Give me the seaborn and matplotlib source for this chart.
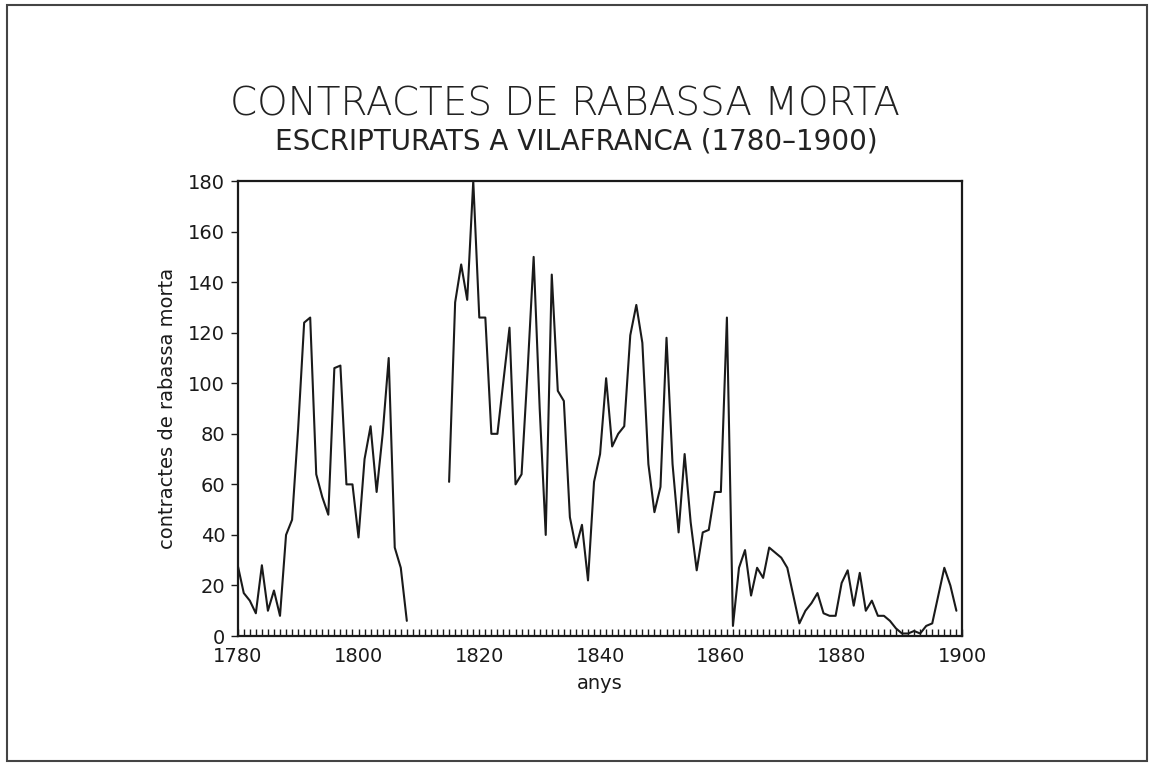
import numpy as np
import pandas as pd
import matplotlib.pyplot as plt
import seaborn as sns
from matplotlib.patches import Rectangle
from matplotlib.ticker import MultipleLocator

# Dades llegides del gràfic original (contractes per any, 1780-1899)
anys = list(range(1780, 1900))
contractes = [
    28, 17, 14, 9, 28, 10, 18, 8, 40, 46,            # 1780-1789
    82, 124, 126, 64, 55, 48, 106, 107, 60, 60,      # 1790-1799
    39, 70, 83, 57, 80, 110, 35, 27, 6, np.nan,      # 1800-1809
    np.nan, np.nan, np.nan, np.nan, np.nan, 61, 132, 147, 133, 180,  # 1810-1819
    126, 126, 80, 80, 101, 122, 60, 64, 105, 150,    # 1820-1829
    90, 40, 143, 97, 93, 47, 35, 44, 22, 61,         # 1830-1839
    72, 102, 75, 80, 83, 119, 131, 116, 68, 49,      # 1840-1849
    59, 118, 68, 41, 72, 45, 26, 41, 42, 57,         # 1850-1859
    57, 126, 4, 27, 34, 16, 27, 23, 35, 33,          # 1860-1869
    31, 27, 16, 5, 10, 13, 17, 9, 8, 8,              # 1870-1879
    21, 26, 12, 25, 10, 14, 8, 8, 6, 3,              # 1880-1889
    1, 1, 2, 1, 4, 5, 16, 27, 20, 10,                # 1890-1899
]

titol = "CONTRACTES DE RABASSA MORTA"
subtitol = "ESCRIPTURATS A VILAFRANCA (1780\u20131900)"

df = pd.DataFrame({"anys": anys, "contractes": contractes})
# tram: cada bloc continu de dades, perquè la línia quedi tallada on falten anys
df["tram"] = df["contractes"].isna().cumsum()
df = df.dropna()

sns.set_style("ticks")
plt.rcParams["font.family"] = ["DejaVu Sans"]

fig = plt.figure(figsize=(11.54, 7.64), dpi=100)
fig.patch.set_facecolor("white")
fig.add_artist(Rectangle((0.006, 0.004), 0.988, 0.99, transform=fig.transFigure,
                         fill=False, edgecolor="#444444", linewidth=1.5))

ax = fig.add_axes([0.206, 0.1675, 0.628, 0.5955])
sns.lineplot(data=df, x="anys", y="contractes", units="tram", estimator=None,
             color="#1a1a1a", linewidth=1.5, ax=ax)

ax.set_xlim(1780, 1900)
ax.set_ylim(0, 180)
ax.xaxis.set_major_locator(MultipleLocator(20))
ax.xaxis.set_minor_locator(MultipleLocator(1))
ax.yaxis.set_major_locator(MultipleLocator(20))
ax.tick_params(axis="x", which="both", direction="in", length=5, width=1,
               labelsize=14, pad=8, colors="#1a1a1a")
ax.tick_params(axis="y", which="major", direction="out", length=5, width=1,
               labelsize=14, pad=4, colors="#1a1a1a")
for s in ax.spines.values():
    s.set_linewidth(1.6)
    s.set_color("#1a1a1a")

ax.set_xlabel("anys", fontsize=14, color="#1a1a1a", labelpad=6)
ax.set_ylabel("contractes de rabassa morta", fontsize=14, color="#1a1a1a", labelpad=8)

fig.text(0.49, 0.863, titol, ha="center", va="center", fontsize=28,
         color="#222222", fontweight="light")
fig.text(0.499, 0.815, subtitol, ha="center", va="center", fontsize=20,
         color="#222222")

fig.savefig("out.png", dpi=100)
